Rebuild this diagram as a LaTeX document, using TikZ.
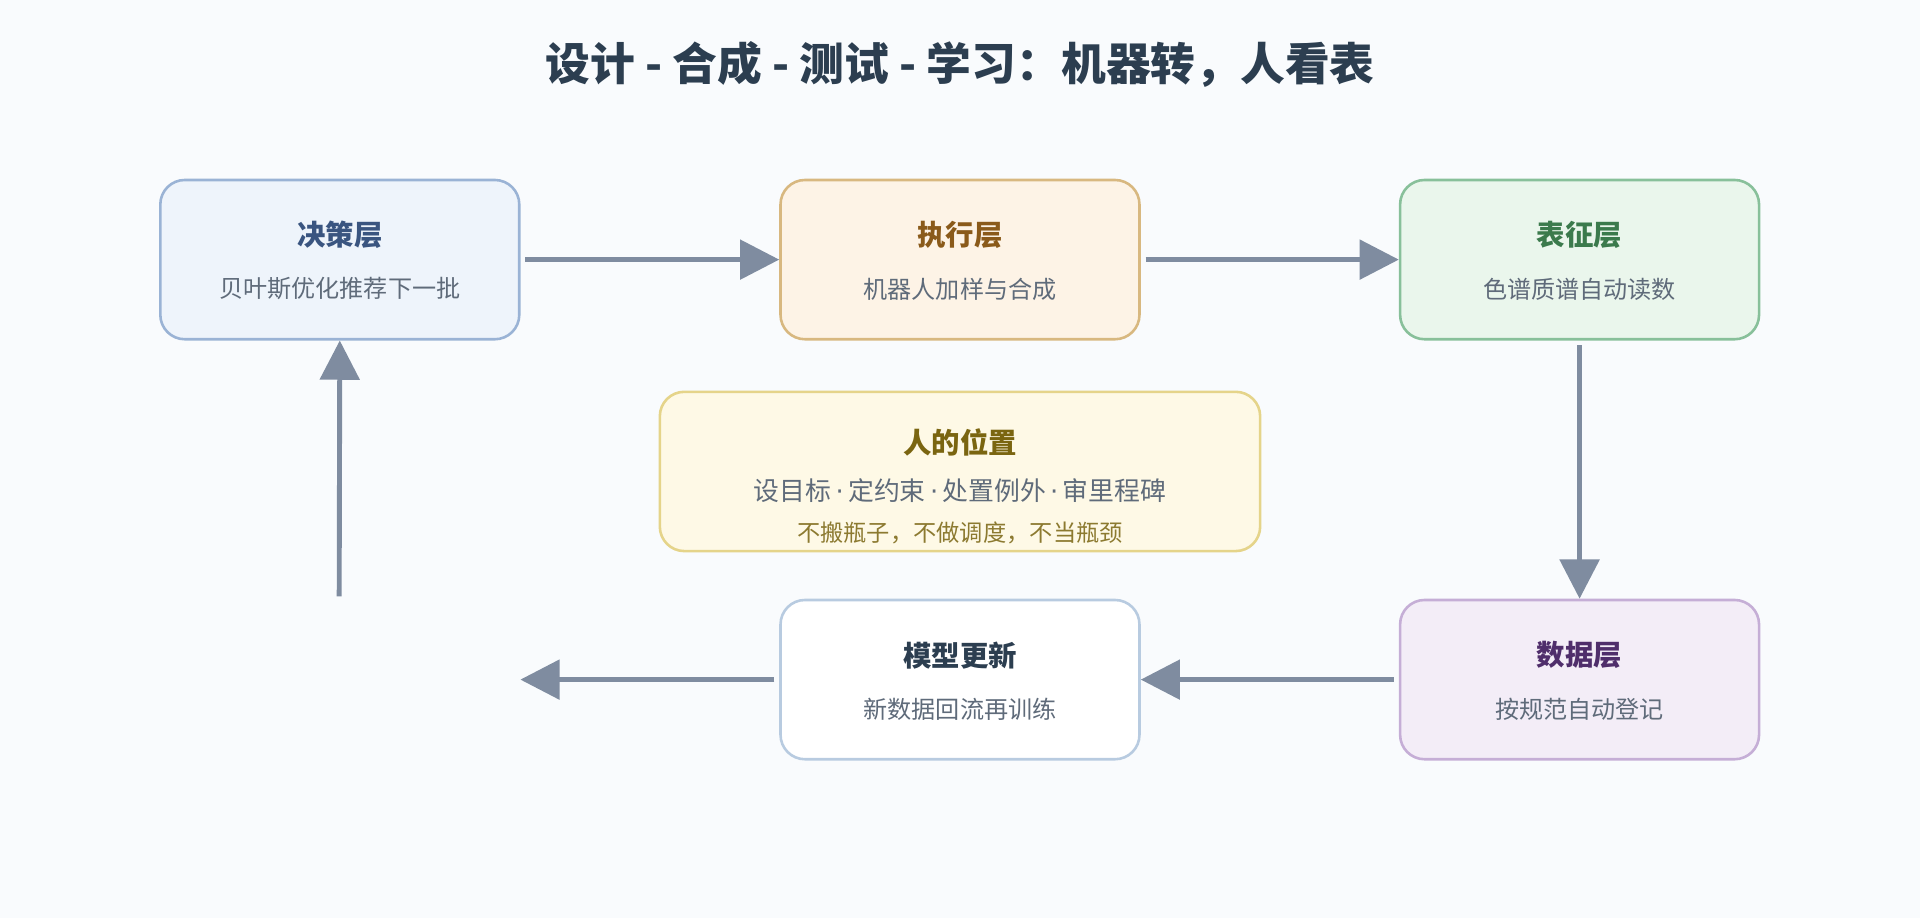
\documentclass[tikz,border=0pt]{standalone}
\usepackage{fontspec}
\setmainfont{Noto Sans CJK SC}
\newfontfamily\dotfont{DejaVu Sans}
\usetikzlibrary{arrows.meta}
\usetikzlibrary{backgrounds}
\definecolor{bgc}{HTML}{F9FBFD}
\definecolor{arrc}{HTML}{7F8CA0}
\definecolor{subc}{HTML}{5F6B7A}
\definecolor{titlec}{HTML}{2C3E50}
\definecolor{decfill}{HTML}{EEF4FB}
\definecolor{decline}{HTML}{9AB3D5}
\definecolor{dectext}{HTML}{3A5580}
\definecolor{exefill}{HTML}{FDF3E6}
\definecolor{exeline}{HTML}{D8B880}
\definecolor{exetext}{HTML}{8A5A1A}
\definecolor{chafill}{HTML}{EAF6EC}
\definecolor{chaline}{HTML}{88C09A}
\definecolor{chatext}{HTML}{3B7A4C}
\definecolor{datfill}{HTML}{F3EDF7}
\definecolor{datline}{HTML}{C5AED6}
\definecolor{dattext}{HTML}{4F2E6B}
\definecolor{modline}{HTML}{B8CBE0}
\definecolor{humfill}{HTML}{FEF9E6}
\definecolor{humline}{HTML}{E5D48A}
\definecolor{humtext}{HTML}{7A6510}
\definecolor{humsub}{HTML}{8C7A30}
\newcommand{\md}{\,{\dotfont\textperiodcentered}\,}
\tikzset{
  box/.style={draw,rounded corners=0.2cm,line width=0.6pt,minimum width=2.93cm,minimum height=1.3cm,align=center,inner sep=0pt},
  ttl/.style={font=\fontsize{6.6}{8}\selectfont\bfseries},
  sub/.style={font=\fontsize{5.6}{7}\selectfont,text=subc},
}
\begin{document}
\begin{tikzpicture}[x=0.01cm,y=-0.01cm]
	\fill[bgc] (0,0) rectangle (1568,750);
	\useasboundingbox (0,0) rectangle (1568,750);
	\node[font=\fontsize{10.4}{13}\selectfont\bfseries,text=titlec] (title) at (784,53) {设计 - 合成 - 测试 - 学习：机器转，人看表};

	\begin{scope}[every node/.style={box}]
		\node[fill=decfill,draw=decline] (dec) at (277.5,212) {};
		\node[fill=exefill,draw=exeline] (exe) at (784,212) {};
		\node[fill=chafill,draw=chaline] (cha) at (1290,212) {};
		\node[fill=datfill,draw=datline] (dat) at (1290,555) {};
		\node[fill=white,draw=modline] (mod) at (784,555) {};
		\node[fill=humfill,draw=humline,minimum width=4.9cm] (hum) at (784,385) {};
	\end{scope}

	% texts
	\node[ttl,text=dectext] at (277.5,192) {决策层};
	\node[sub] at (277.5,236) {贝叶斯优化推荐下一批};
	\node[ttl,text=exetext] at (784,192) {执行层};
	\node[sub] at (784,236) {机器人加样与合成};
	\node[ttl,text=chatext] at (1290,192) {表征层};
	\node[sub] at (1290,236) {色谱质谱自动读数};
	\node[ttl,text=dattext] at (1290,535) {数据层};
	\node[sub] at (1290,579) {按规范自动登记};
	\node[ttl,text=titlec] at (784,535) {模型更新};
	\node[sub] at (784,579) {新数据回流再训练};
	\node[ttl,text=humtext] at (784,361) {人的位置};
	\node[sub,font=\fontsize{6}{7}\selectfont] at (784,401) {设目标\md 定约束\md 处置例外\md 审里程碑};
	\node[sub,text=humsub,font=\fontsize{5.4}{7}\selectfont] at (784,435) {不搬瓶子，不做调度，不当瓶颈};

	\coordinate (mout) at (425,555);
	\coordinate (din) at (277,487);

	\begin{scope}[>={Triangle[length=0.32cm,width=0.32cm]},
	              every edge/.style={draw=arrc,line width=0.04cm}]
		\path (dec.east) ++(4,0) coordinate (d1);
		\path[->] (d1) edge (exe.west);
		\path (exe.east) ++(4,0) coordinate (e1);
		\path[->] (e1) edge (cha.west);
		\path (cha.south) ++(0,4) coordinate (c1);
		\path[->] (c1) edge (dat.north);
		\path (dat.west) ++(-4,0) coordinate (a1);
		\path[->] (a1) edge (mod.east);
		\path (mod.west) ++(-4,0) coordinate (m1);
		\path[->] (m1) edge (mout);
		\path[->] (din) edge (dec.south);
	\end{scope}
\end{tikzpicture}
\end{document}
